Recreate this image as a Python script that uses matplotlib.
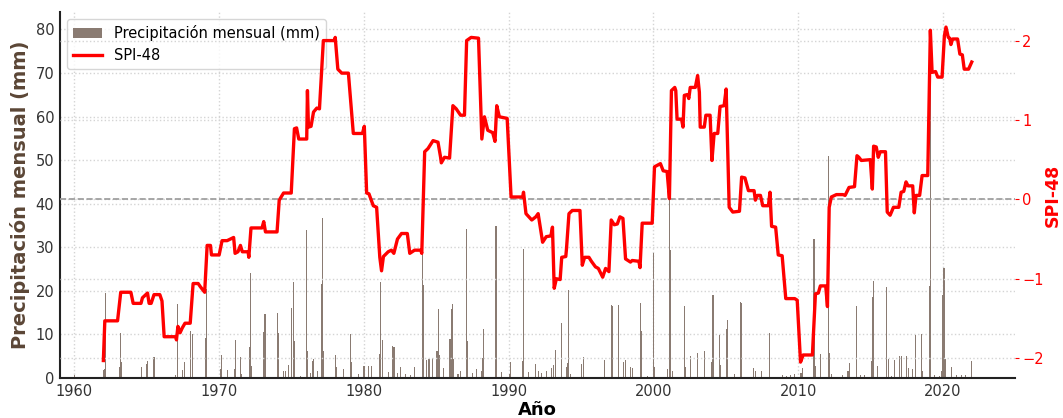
import matplotlib
matplotlib.use("Agg")
import matplotlib.pyplot as plt

# SPI-48 (decimal year, value)
spi_year = [
    1962.0, 1962.1, 1962.98, 1963.2, 1963.9, 1964.06, 1964.6, 1964.7, 1965.05, 1965.16,
    1965.3, 1965.5, 1965.9, 1966.05, 1966.2, 1967.0, 1967.05, 1967.15, 1967.3, 1967.45,
    1967.64, 1968.0, 1968.2, 1968.55, 1968.7, 1969.0, 1969.17, 1969.4, 1969.47, 1970.0,
    1970.2, 1970.55, 1971.0, 1971.1, 1971.3, 1971.47, 1971.6, 1972.0, 1972.05, 1972.2,
    1972.96, 1973.08, 1973.2, 1974.0, 1974.15, 1974.45, 1974.98, 1975.2, 1975.35, 1975.5,
    1976.05, 1976.1, 1976.17, 1976.35, 1976.52, 1976.75, 1976.93, 1977.2, 1977.96, 1978.02,
    1978.2, 1978.47, 1978.93, 1979.27, 1979.9, 1980.03, 1980.19, 1980.35, 1980.65, 1980.88,
    1981.1, 1981.22, 1981.35, 1981.68, 1981.9, 1982.07, 1982.32, 1982.6, 1983.0, 1983.17,
    1983.5, 1983.93, 1984.0, 1984.2, 1984.43, 1984.78, 1985.12, 1985.3, 1985.35, 1985.57,
    1985.92, 1986.15, 1986.38, 1986.68, 1986.95, 1987.1, 1987.41, 1987.92, 1988.15, 1988.33,
    1988.56, 1988.9, 1989.06, 1989.18, 1989.36, 1989.9, 1990.17, 1990.97, 1991.03, 1991.2,
    1991.4, 1991.6, 1991.88, 1992.04, 1992.35, 1992.6, 1992.92, 1993.03, 1993.15, 1993.3,
    1993.56, 1993.67, 1993.95, 1994.0, 1994.17, 1994.4, 1994.93, 1995.09, 1995.25, 1995.55,
    1995.72, 1996.0, 1996.2, 1996.5, 1996.7, 1996.93, 1997.09, 1997.3, 1997.51, 1997.69,
    1997.9, 1998.08, 1998.42, 1998.54, 1999.0, 1999.08, 1999.23, 1999.92, 2000.08, 2000.49,
    2000.68, 2000.95, 2001.11, 2001.25, 2001.48, 2001.55, 2001.64, 2001.95, 2002.05, 2002.14,
    2002.35, 2002.45, 2002.55, 2002.9, 2003.06, 2003.18, 2003.24, 2003.52, 2003.63, 2003.92,
    2004.05, 2004.2, 2004.45, 2004.61, 2004.89, 2005.03, 2005.24, 2005.49, 2005.95, 2006.1,
    2006.33, 2006.57, 2006.96, 2007.05, 2007.19, 2007.4, 2007.56, 2007.95, 2008.06, 2008.17,
    2008.45, 2008.63, 2008.9, 2009.15, 2009.77, 2009.94, 2010.17, 2010.35, 2010.99, 2011.2,
    2011.4, 2011.54, 2011.91, 2012.03, 2012.15, 2012.3, 2012.65, 2013.1, 2013.25, 2013.52,
    2013.9, 2014.07, 2014.2, 2014.37, 2014.99, 2015.13, 2015.22, 2015.4, 2015.54, 2015.68,
    2016.04, 2016.16, 2016.36, 2016.59, 2016.96, 2017.12, 2017.3, 2017.46, 2017.6, 2017.92,
    2018.03, 2018.15, 2018.4, 2018.57, 2018.96, 2019.14, 2019.26, 2019.5, 2019.65, 2019.95,
    2020.11, 2020.22, 2020.38, 2020.48, 2020.56, 2020.68, 2021.02, 2021.18, 2021.35, 2021.48,
    2021.78, 2022.0,
]
spi_value = [
    -2.03, -1.53, -1.53, -1.17, -1.17, -1.31, -1.31, -1.24, -1.18, -1.31,
    -1.31, -1.20, -1.20, -1.28, -1.73, -1.73, -1.77, -1.60, -1.68, -1.62,
    -1.56, -1.56, -1.06, -1.06, -1.10, -1.17, -0.58, -0.58, -0.70, -0.70,
    -0.52, -0.52, -0.48, -0.68, -0.66, -0.58, -0.66, -0.66, -0.73, -0.36,
    -0.36, -0.28, -0.41, -0.41, -0.01, 0.08, 0.08, 0.89, 0.90, 0.76,
    0.76, 1.37, 0.91, 0.92, 1.10, 1.15, 1.14, 2.00, 2.00, 2.04,
    1.64, 1.59, 1.59, 0.83, 0.83, 0.92, 0.08, 0.07, -0.08, -0.10,
    -0.73, -0.90, -0.72, -0.66, -0.64, -0.68, -0.50, -0.43, -0.43, -0.68,
    -0.64, -0.64, -0.68, 0.60, 0.64, 0.74, 0.72, 0.53, 0.46, 0.53,
    0.52, 1.18, 1.14, 1.06, 1.06, 2.00, 2.04, 2.03, 0.76, 1.04,
    0.87, 0.84, 0.73, 1.18, 1.04, 1.02, 0.03, 0.03, 0.09, -0.18,
    -0.22, -0.26, -0.22, -0.18, -0.54, -0.47, -0.46, -0.35, -1.12, -1.00,
    -1.01, -0.73, -0.72, -0.62, -0.18, -0.14, -0.14, -0.83, -0.73, -0.73,
    -0.78, -0.85, -0.87, -0.98, -0.87, -0.91, -0.26, -0.32, -0.31, -0.22,
    -0.24, -0.75, -0.79, -0.77, -0.78, -0.86, -0.30, -0.30, 0.41, 0.45,
    0.36, 0.35, 0.01, 1.37, 1.41, 1.37, 1.01, 1.01, 0.91, 1.31,
    1.32, 1.27, 1.41, 1.41, 1.56, 1.35, 0.91, 0.91, 1.06, 1.06,
    0.49, 0.83, 0.83, 1.17, 1.18, 1.39, -0.10, -0.16, -0.15, 0.28,
    0.27, 0.11, 0.11, -0.01, 0.05, 0.05, -0.08, -0.08, 0.09, -0.34,
    -0.35, -0.70, -0.71, -1.25, -1.25, -1.27, -2.05, -1.96, -1.96, -1.19,
    -1.18, -1.09, -1.09, -1.35, -0.10, 0.03, 0.06, 0.06, 0.05, 0.15,
    0.16, 0.55, 0.53, 0.49, 0.50, 0.13, 0.67, 0.66, 0.53, 0.60,
    0.60, -0.16, -0.20, -0.10, -0.10, 0.09, 0.10, 0.22, 0.17, 0.17,
    -0.17, 0.05, 0.05, 0.30, 0.30, 2.13, 1.60, 1.61, 1.54, 1.54,
    2.06, 2.17, 2.04, 2.03, 1.95, 2.02, 2.02, 1.83, 1.82, 1.64,
    1.64, 1.73,
]

# monthly precipitation, only the visible bars (decimal year, mm)
rain_year = [
    1960.0, 1962.0, 1962.1, 1962.17, 1963.1, 1963.17, 1963.25, 1964.65, 1964.98, 1965.08,
    1965.5, 1967.0, 1967.15, 1967.45, 1967.6, 1968.05, 1968.13, 1969.05, 1969.15, 1970.08,
    1970.15, 1970.55, 1971.05, 1971.12, 1971.45, 1971.55, 1972.08, 1972.15, 1972.22, 1973.05,
    1973.1, 1973.17, 1974.05, 1974.12, 1974.45, 1974.6, 1974.8, 1975.02, 1975.12, 1975.2,
    1975.65, 1976.05, 1976.12, 1976.3, 1976.45, 1976.55, 1976.8, 1977.07, 1977.14, 1977.22,
    1978.05, 1978.12, 1978.6, 1979.05, 1979.12, 1979.6, 1979.95, 1980.05, 1980.3, 1980.5,
    1981.06, 1981.13, 1981.28, 1981.7, 1982.0, 1982.08, 1982.3, 1982.55, 1982.9, 1983.2,
    1983.47, 1984.02, 1984.1, 1984.3, 1984.5, 1984.75, 1985.05, 1985.13, 1985.22, 1985.5,
    1985.95, 1986.05, 1986.13, 1986.2, 1986.5, 1986.7, 1987.07, 1987.13, 1987.5, 1987.75,
    1988.1, 1988.2, 1988.29, 1989.13, 1989.5, 1990.05, 1990.1, 1990.95, 1991.0, 1991.35,
    1991.85, 1992.05, 1992.3, 1992.6, 1992.95, 1993.1, 1993.22, 1993.63, 1994.0, 1994.06,
    1994.11, 1994.25, 1995.05, 1995.18, 1996.63, 1997.1, 1997.17, 1997.62, 1997.95, 1998.05,
    1998.4, 1998.55, 1999.1, 1999.17, 1999.6, 2000.03, 2000.1, 2001.0, 2001.1, 2001.17,
    2001.35, 2002.13, 2002.2, 2002.55, 2003.05, 2003.53, 2004.05, 2004.12, 2004.55, 2004.62,
    2005.05, 2005.12, 2005.6, 2006.03, 2006.1, 2006.95, 2007.05, 2007.45, 2008.03, 2008.9,
    2009.2, 2009.5, 2009.75, 2010.2, 2010.3, 2011.1, 2011.17, 2011.55, 2012.1, 2012.18,
    2012.3, 2013.1, 2013.45, 2013.55, 2014.05, 2014.3, 2014.6, 2015.05, 2015.12, 2015.2,
    2015.5, 2016.14, 2016.22, 2016.45, 2016.65, 2017.02, 2017.12, 2017.5, 2017.6, 2017.9,
    2018.1, 2018.55, 2018.62, 2019.05, 2019.12, 2019.45, 2019.8, 2019.93, 2020.0, 2020.08,
    2020.16, 2020.6, 2020.95, 2021.3, 2021.6, 2021.97,
]
rain_mm = [
    0.7, 1.8, 2.0, 19.4, 2.6, 10.3, 3.6, 2.6, 3.2, 4.0,
    4.9, 0.8, 17.0, 1.8, 3.6, 10.9, 10.1, 9.1, 20.4, 2.0,
    5.3, 1.8, 2.0, 8.8, 4.8, 1.0, 7.0, 24.0, 2.8, 2.5,
    10.6, 14.6, 15.0, 10.3, 1.7, 1.5, 3.0, 16.0, 22.0, 8.4,
    0.5, 33.9, 6.3, 1.2, 4.0, 4.4, 1.6, 21.6, 36.8, 6.2,
    5.3, 2.5, 2.0, 10.1, 3.6, 1.0, 2.8, 2.8, 2.8, 2.8,
    5.6, 22.0, 8.7, 1.3, 7.3, 7.0, 1.2, 2.6, 1.0, 0.8,
    2.6, 29.5, 21.4, 4.2, 4.4, 4.5, 6.2, 15.8, 5.3, 2.4,
    9.0, 15.8, 17.0, 4.4, 1.0, 1.5, 34.1, 8.4, 1.2, 2.0,
    1.6, 4.7, 11.2, 34.9, 1.4, 1.0, 3.7, 3.8, 29.6, 1.4,
    3.2, 1.6, 1.2, 1.5, 2.2, 3.0, 6.4, 12.6, 2.6, 3.4,
    20.2, 1.0, 3.3, 4.8, 4.2, 16.8, 16.6, 16.7, 3.6, 4.2,
    2.6, 2.4, 17.2, 10.7, 0.5, 28.6, 2.6, 2.0, 41.2, 29.4,
    1.5, 16.6, 2.5, 5.1, 5.8, 6.2, 3.7, 19.1, 9.8, 2.9,
    11.2, 13.3, 1.0, 17.4, 17.2, 2.3, 1.5, 1.5, 10.4, 0.6,
    0.5, 0.8, 1.0, 1.2, 2.4, 31.9, 2.8, 5.6, 50.9, 5.7,
    1.0, 0.8, 1.5, 3.5, 16.6, 0.7, 0.6, 4.0, 18.6, 22.2,
    2.8, 20.8, 4.4, 0.5, 4.2, 5.0, 5.0, 5.0, 2.2, 2.0,
    9.8, 10.0, 1.5, 21.2, 80.0, 0.6, 0.5, 1.5, 19.0, 25.3,
    4.3, 2.5, 0.7, 0.6, 0.6, 3.8,
]

BAR_COLOR = "#8a7b72"
BROWN = "#5b4636"

fig, ax = plt.subplots(figsize=(10.63, 4.18), dpi=100)
fig.subplots_adjust(left=0.0564, right=0.955, bottom=0.0957, top=0.9713)

ax.bar(rain_year, rain_mm, width=0.075, color=BAR_COLOR, linewidth=0,
       label="Precipitación mensual (mm)", zorder=2)
ax.set_xlim(1959, 2025)
ax.set_ylim(0, 84)
ax.set_xlabel("Año", fontsize=13, fontweight="bold", labelpad=2)
ax.set_ylabel("Precipitación mensual (mm)", fontsize=14, fontweight="bold", color=BROWN, labelpad=4)
ax.tick_params(axis="both", length=0, labelsize=10.5, colors="#333333", pad=4)
ax.grid(True, linestyle=":", color="#d4d4d4", linewidth=1)
ax.set_axisbelow(True)
for side in ["top", "right"]:
    ax.spines[side].set_visible(False)
for side in ["left", "bottom"]:
    ax.spines[side].set_color("#222222")
    ax.spines[side].set_linewidth(1.5)

ax2 = ax.twinx()
ax2.axhline(0, color="#999999", linestyle="--", linewidth=1.2)
ax2.plot(spi_year, spi_value, color="red", linewidth=2.4, label="SPI-48")
ax2.set_ylim(-2.25, 2.36)
ax2.set_yticks([-2, -1, 0, 1, 2])
ax2.tick_params(axis="y", colors="red", labelsize=10.5, length=3, pad=2)
ax2.set_ylabel("SPI-48", fontsize=12.5, fontweight="bold", color="red", labelpad=0)
ax2.grid(True, axis="y", linestyle=":", color="#d4d4d4", linewidth=1)
for s in ax2.spines.values():
    s.set_visible(False)

h1, l1 = ax.get_legend_handles_labels()
h2, l2 = ax2.get_legend_handles_labels()
ax.legend(h1 + h2, l1 + l2, loc="upper left", fontsize=10.5)

fig.savefig("out.png", dpi=100)
